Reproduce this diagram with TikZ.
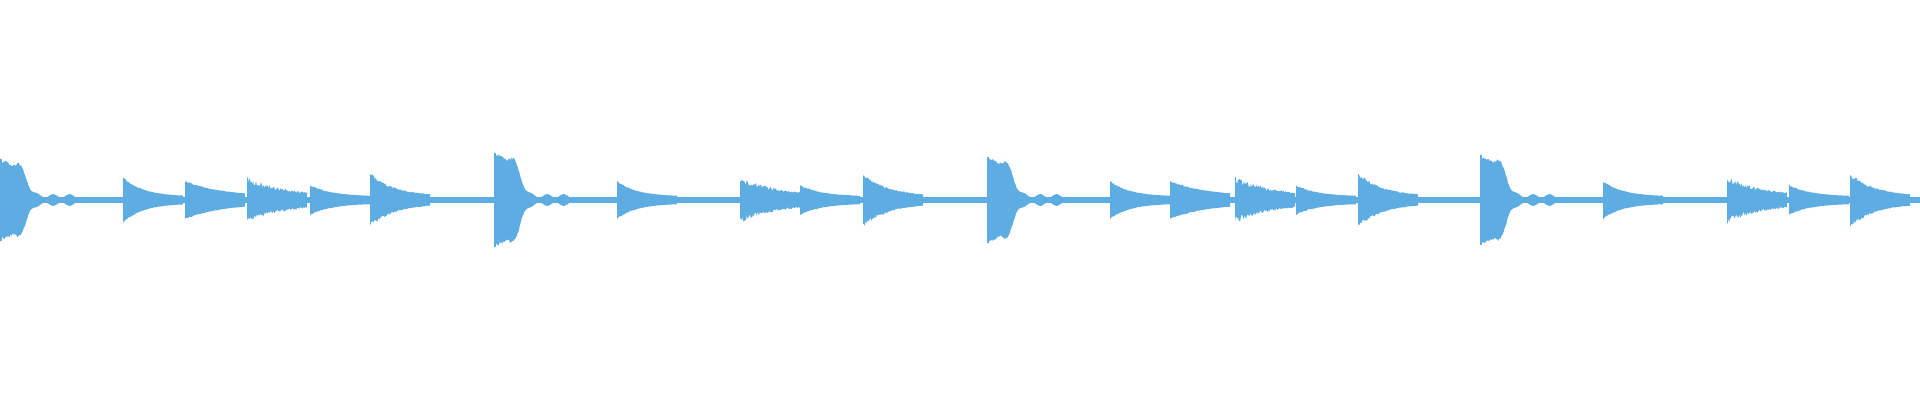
\documentclass[tikz,border=0pt]{standalone}
\definecolor{wave}{HTML}{5DADE2}
\newcommand{\hitw}[5]{% x, A, tau, L, noise
  \fill[wave] plot[domain=0:#4,samples=80,variable=\t] ({#1+\t},{200+(#2)*exp(-\t/(#3))*(1-#5*rnd)+3.5})
   -- plot[domain=#4:0,samples=80,variable=\t] ({#1+\t},{200-(#2)*exp(-\t/(#3))*(1-#5*rnd)-3.5}) -- cycle;}
\newcommand{\kickw}[2]{% x, A
  \fill[wave] plot[domain=0:75,samples=100,variable=\t] ({#1+\t},{200+(#2)/(1+exp((min(\t,50)-27)/3))*(1-0.08*rnd)+4+1.8*sin(\t*22)})
   -- plot[domain=75:0,samples=100,variable=\t] ({#1+\t},{200-(#2)/(1+exp((min(\t,50)-27)/3))*(1-0.08*rnd)-4-1.8*sin(\t*22)}) -- cycle;
  \fill[wave] (#1,{200-(#2)-7}) rectangle ({#1+2},{200+(#2)+7});}
\begin{document}
\begin{tikzpicture}[x=0.05cm,y=0.05cm]
\useasboundingbox (0,0) rectangle (1920,400);
\pgfmathsetseed{7}
\fill[wave] (0,197.2) rectangle (1920,202.8);
\foreach \s/\k in {0/34,494/40,987/36,1480/38}{\kickw{\s}{\k}}
\foreach \p/\a/\u/\n in {123/20/20/0.1,185/16/38/0.1,247/20/40/0.35,310/12/22/0.15,370/24/26/0.2,
 617/16/20/0.1,740/20/40/0.35,800/12/22/0.15,863/24/26/0.2,
 1110/16/20/0.1,1170/16/38/0.1,1235/20/40/0.35,1296/12/22/0.15,1358/24/26/0.2,
 1603/16/20/0.1,1727/20/40/0.35,1789/12/22/0.15,1850/24/26/0.2}{\hitw{\p}{\a}{\u}{60}{\n}}
\end{tikzpicture}
\end{document}
